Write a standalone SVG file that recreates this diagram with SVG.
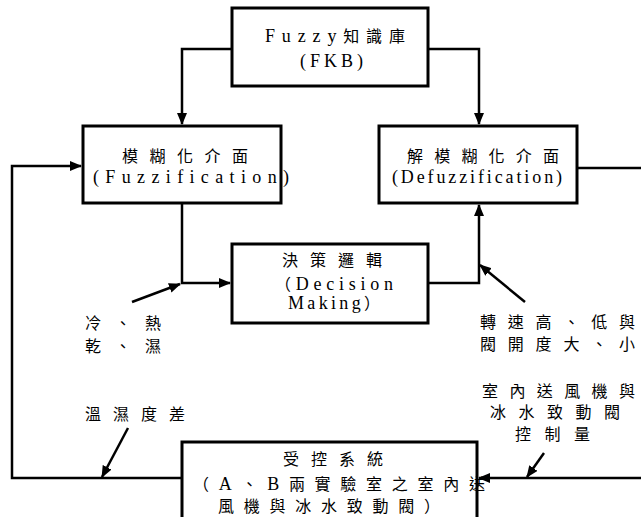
<svg xmlns="http://www.w3.org/2000/svg" width="641" height="517" viewBox="0 0 641 517">
<style>
.box{fill:#fff;stroke:#000;stroke-width:3}
.ln{fill:none;stroke:#000;stroke-width:2.5}
text{font-family:'Liberation Serif','Noto Sans CJK TC',serif;font-size:16px;fill:#000}
.l{font-size:18px}
</style>
<defs>
<marker id="ah" markerUnits="userSpaceOnUse" markerWidth="12" markerHeight="10" refX="11" refY="5" orient="auto">
<path d="M0,0 L12,5 L0,10 Z" fill="#000"/>
</marker>
</defs>
<rect width="641" height="517" fill="#fff"/>
<g id="connectors">
<path class="ln" d="M232,49 H182 V124" marker-end="url(#ah)"/>
<path class="ln" d="M428,49 H479 V124" marker-end="url(#ah)"/>
<path class="ln" d="M182,203 V283 H230" marker-end="url(#ah)"/>
<path class="ln" d="M428,283 H479 V205" marker-end="url(#ah)"/>
<path class="ln" d="M577,168 H646 V478 H479" marker-end="url(#ah)"/>
<path class="ln" d="M182,478 H12 V166 H81" marker-end="url(#ah)"/>
<path class="ln" d="M132,302 L180,284" marker-end="url(#ah)"/>
<path class="ln" d="M525,302 L480,265" marker-end="url(#ah)"/>
<path class="ln" d="M128,428 L102,477" marker-end="url(#ah)"/>
<path class="ln" d="M544,453 L527,477" marker-end="url(#ah)"/>
</g>
<g id="fkb">
<rect class="box" x="232" y="8" width="196" height="78"/>
<text x="265" y="42" textLength="140" lengthAdjust="spacing"><tspan class="l">Fuzzy</tspan>知識庫</text>
<text class="l" x="300" y="67" textLength="63" lengthAdjust="spacing">(FKB)</text>
</g>
<g id="fuzzification">
<rect class="box" x="83" y="126" width="198" height="77"/>
<text x="122" y="162" textLength="126" lengthAdjust="spacing">模糊化介面</text>
<text class="l" x="93" y="183" textLength="196" lengthAdjust="spacing">(Fuzzification)</text>
</g>
<g id="defuzzification">
<rect class="box" x="379" y="126" width="198" height="77"/>
<text x="407" y="162" textLength="152" lengthAdjust="spacing">解模糊化介面</text>
<text class="l" x="392" y="183" textLength="170" lengthAdjust="spacing">(Defuzzification)</text>
</g>
<g id="decision">
<rect class="box" x="232" y="244" width="196" height="79"/>
<text x="282" y="266" textLength="100" lengthAdjust="spacing">決策邏輯</text>
<text x="275" y="290" textLength="118" lengthAdjust="spacing">（<tspan class="l">Decision</tspan></text>
<text x="288" y="309" textLength="92" lengthAdjust="spacing"><tspan class="l">Making</tspan>）</text>
</g>
<g id="plant">
<rect class="box" x="182" y="442" width="295" height="80"/>
<text x="283" y="465" textLength="100" lengthAdjust="spacing">受控系統</text>
<text x="193" y="490" textLength="292" lengthAdjust="spacing">（<tspan class="l">A</tspan>、<tspan class="l">B</tspan>兩實驗室之室內送</text>
<text x="218" y="512" textLength="222" lengthAdjust="spacing">風機與冰水致動閥）</text>
</g>
<g id="labels">
<text x="85" y="329" textLength="76" lengthAdjust="spacing">冷、熱</text>
<text x="85" y="352" textLength="76" lengthAdjust="spacing">乾、濕</text>
<text x="85" y="420" textLength="100" lengthAdjust="spacing">溫濕度差</text>
<text x="480" y="328" textLength="155" lengthAdjust="spacing">轉速高、低與</text>
<text x="480" y="350" textLength="155" lengthAdjust="spacing">閥開度大、小</text>
<text x="482" y="397" textLength="153" lengthAdjust="spacing">室內送風機與</text>
<text x="490" y="418" textLength="130" lengthAdjust="spacing">冰水致動閥</text>
<text x="515" y="440" textLength="75" lengthAdjust="spacing">控制量</text>
</g>
</svg>
